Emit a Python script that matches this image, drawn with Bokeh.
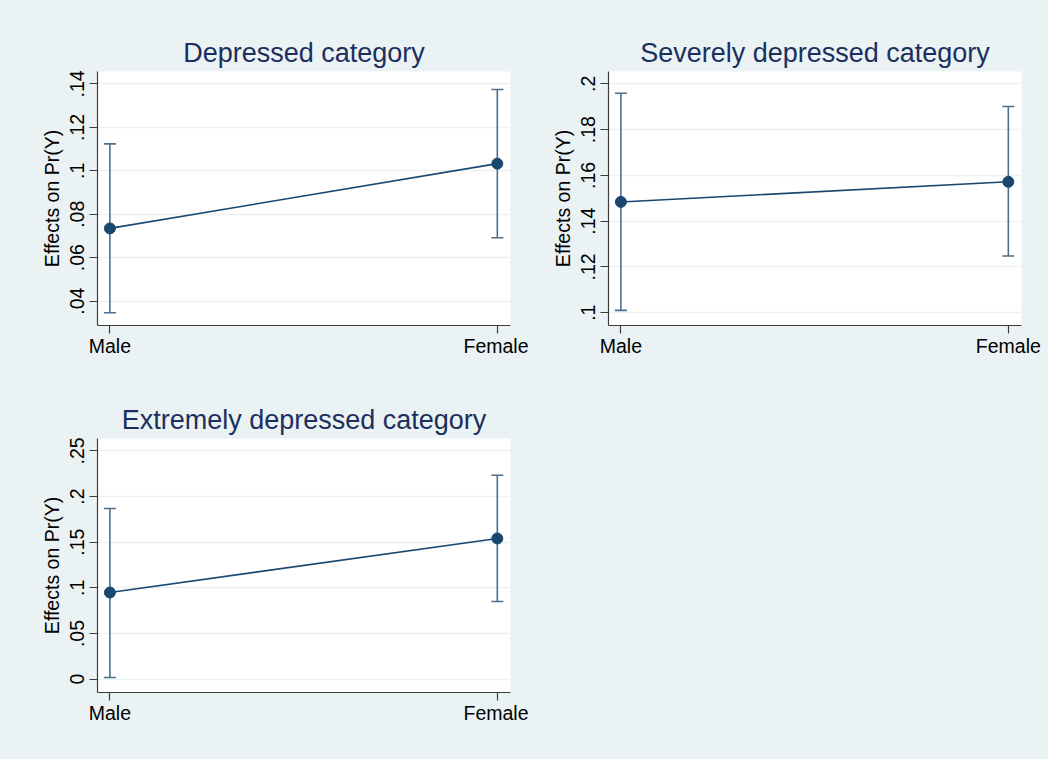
from bokeh.plotting import figure
from bokeh.models import FixedTicker, Range1d, CustomJSTickFormatter
from bokeh.layouts import column, row
from bokeh.embed import file_html
from bokeh.resources import INLINE

# ---------------- data ----------------
categories = ["Male", "Female"]
titles = ["Depressed category", "Severely depressed category", "Extremely depressed category"]
y_label = "Effects on Pr(Y)"

dep_est = [0.0735, 0.1033]
dep_lo = [0.0347, 0.0692]
dep_hi = [0.1124, 0.1374]

sev_est = [0.1484, 0.1572]
sev_lo = [0.1010, 0.1248]
sev_hi = [0.1959, 0.1901]

ext_est = [0.0949, 0.1541]
ext_lo = [0.0018, 0.0851]
ext_hi = [0.1869, 0.2234]

dep_ticks = [0.04, 0.06, 0.08, 0.10, 0.12, 0.14]
sev_ticks = [0.10, 0.12, 0.14, 0.16, 0.18, 0.20]
ext_ticks = [0.0, 0.05, 0.10, 0.15, 0.20, 0.25]

# ---------------- style ----------------
BG = "#eaf2f3"
NAVY = "#1a476f"
CI = "#4a6f8e"
TITLE_C = "#1c2f5e"
FONT = "Liberation Sans"

x_pos = list(range(len(categories)))

y_fmt_code = """
var s = String(+tick.toFixed(4));
if (s.indexOf('0.') === 0) s = s.substring(1);
return s;
"""


def panel(title, est, lo, hi, ticks, yr, width, height, bl, br, bt, bb):
    p = figure(width=width, height=height, output_backend="svg", toolbar_location=None,
               x_range=Range1d(-0.032, 1.034), y_range=Range1d(*yr),
               min_border_left=bl, min_border_right=br, min_border_top=bt, min_border_bottom=bb)
    p.border_fill_color = BG
    p.background_fill_color = "white"
    p.outline_line_color = None

    p.title.text = title
    p.title.align = "center"
    p.title.text_font = FONT
    p.title.text_font_size = "27px"
    p.title.text_font_style = "normal"
    p.title.text_color = TITLE_C
    p.title.standoff = 7

    p.xgrid.visible = False
    p.ygrid.grid_line_color = BG
    p.ygrid.grid_line_width = 1.6
    p.ygrid.ticker = FixedTicker(ticks=ticks)

    for ax in (p.xaxis[0], p.yaxis[0]):
        ax.axis_line_color = "#3c3c3c"
        ax.axis_line_width = 1.2
        ax.major_tick_line_color = "#3c3c3c"
        ax.major_tick_line_width = 1.2
        ax.major_tick_out = 8
        ax.major_tick_in = 0
        ax.minor_tick_line_color = None
        ax.major_label_text_font = FONT
        ax.major_label_text_font_size = "19.5px"
        ax.major_label_text_color = "black"
        ax.major_label_standoff = 5

    p.xaxis.major_label_standoff = 1
    p.xaxis.ticker = FixedTicker(ticks=x_pos)
    p.xaxis.formatter = CustomJSTickFormatter(args=dict(cats=categories),
                                              code="var i = Math.round(tick); return (i >= 0 && i < cats.length) ? cats[i] : '';")

    p.yaxis.ticker = FixedTicker(ticks=ticks)
    p.yaxis.formatter = CustomJSTickFormatter(code=y_fmt_code)
    p.yaxis.major_label_orientation = "parallel"
    p.yaxis.axis_label = y_label
    p.yaxis.axis_label_text_font = FONT
    p.yaxis.axis_label_text_font_size = "19.5px"
    p.yaxis.axis_label_text_font_style = "normal"
    p.yaxis.axis_label_text_color = "black"
    p.yaxis.axis_label_standoff = 5

    # confidence intervals
    p.segment(x0=x_pos, y0=lo, x1=x_pos, y1=hi, line_color=CI, line_width=1.6)
    p.scatter(x=x_pos, y=lo, marker="dash", size=12, line_color=CI, line_width=1.6)
    p.scatter(x=x_pos, y=hi, marker="dash", size=12, line_color=CI, line_width=1.6)
    # estimates
    p.line(x=x_pos, y=est, line_color=NAVY, line_width=1.6)
    p.scatter(x=x_pos, y=est, marker="circle", size=11, fill_color=NAVY, line_color=NAVY)
    return p


p1 = panel(titles[0], dep_est, dep_lo, dep_hi, dep_ticks, (0.0288, 0.1457),
           528, 383, 97, 18, 71, 58)
p2 = panel(titles[1], sev_est, sev_lo, sev_hi, sev_ticks, (0.0944, 0.2054),
           520, 383, 80, 27, 71, 58)
p3 = panel(titles[2], ext_est, ext_lo, ext_hi, ext_ticks, (-0.0146, 0.2636),
           528, 376, 97, 18, 55, 67)

blank = figure(width=520, height=376, output_backend="svg", toolbar_location=None,
               x_range=Range1d(0, 1), y_range=Range1d(0, 1),
               min_border_left=0, min_border_right=0, min_border_top=0, min_border_bottom=0)
blank.axis.visible = False
blank.grid.visible = False
blank.outline_line_color = None
blank.border_fill_color = BG
blank.background_fill_color = BG
blank.scatter(x=[0.5], y=[0.5], size=1, fill_alpha=0, line_alpha=0)

r1 = row(p1, p2, styles={"background-color": BG})
r2 = row(p3, blank, styles={"background-color": BG})
layout = column(r1, r2, styles={"background-color": BG})

open("out.html", "w").write(file_html(layout, INLINE))
